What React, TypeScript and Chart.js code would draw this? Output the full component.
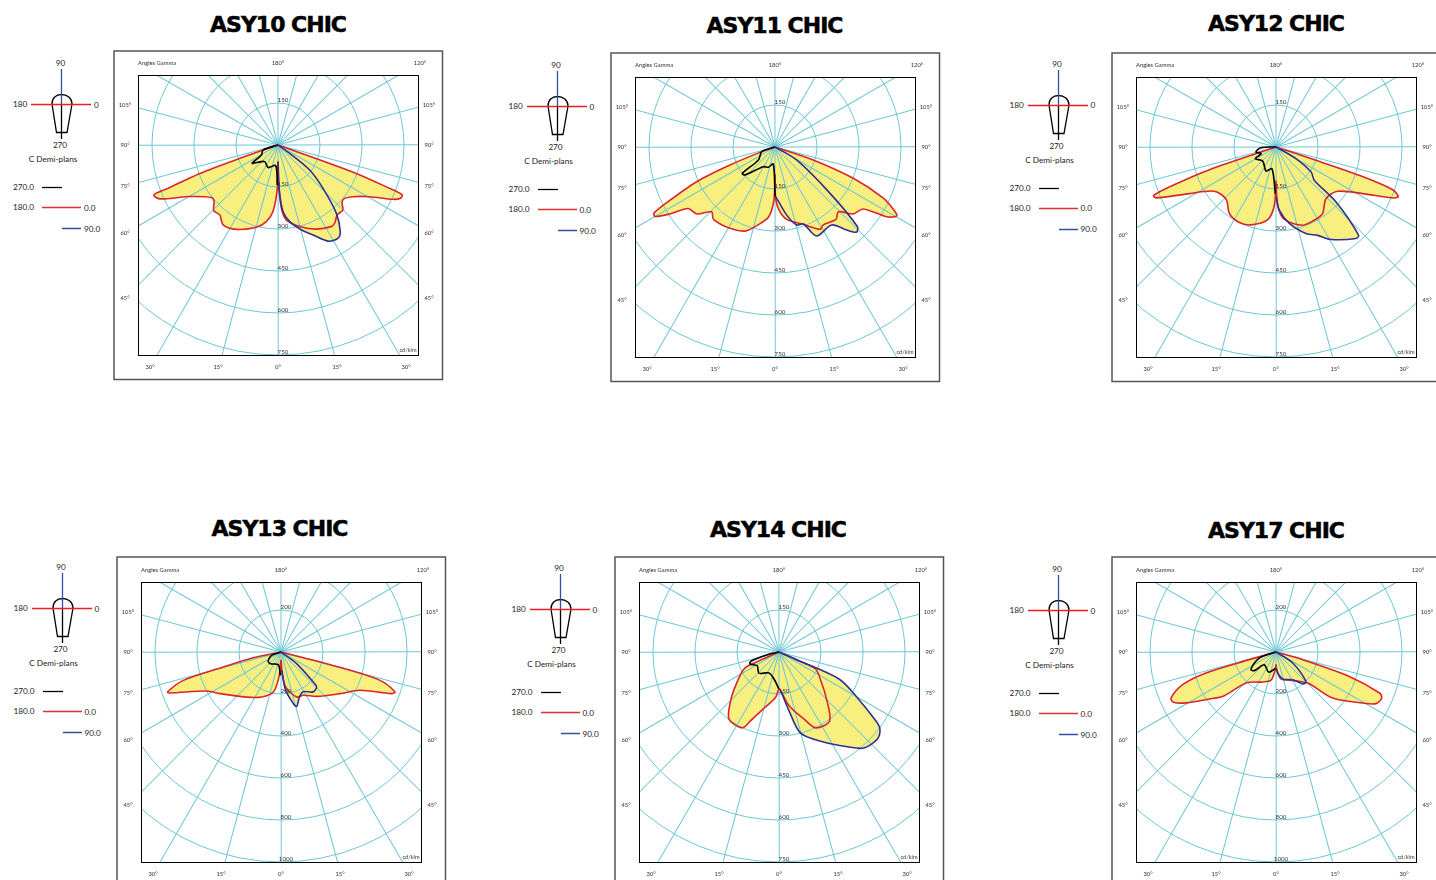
import React, { useEffect, useRef } from "react";
import { Chart, registerables } from "chart.js";

Chart.register(...registerables);

// Signed gamma angle: negative = C180 / C270 half plane, positive = C0 / C90 half plane. Intensity in cd/klm.
const asy10RedGamma = [-72, -70.7, -70, -68.5, -68.1, -65.5, -59.7, -51.7, -48.5, -44.4, -39.8, -34.5, -26.3, -14.7, -8.7, -4.3, -0.9, 0, 1.4, 3, 6.3, 14.9, 24.5, 33.1, 35.9, 40.3, 45, 48.1, 51.3, 55.4, 60.6, 64.7, 66.5, 68.1, 68.8, 70, 72];
const asy10RedCd = [0, 151, 297, 421, 478, 464, 365, 303, 305, 328, 325, 346, 336, 304, 277, 238, 155, 60, 143, 226, 269, 301, 330, 348, 345, 327, 328, 307, 305, 325, 376, 454, 477, 478, 421, 297, 0];
const asy10BlueGamma = [60, 54.5, 51.7, 46.1, 40.5, 35.7, 32.7, 27.5, 21.3, 15.3, 8.7, 4.3, 1.3, 0];
const asy10BlueCd = [0, 51, 144, 223, 321, 381, 396, 387, 345, 314, 277, 238, 155, 60];
const asy10BlackGamma = [-80, -71.6, -59, -54.8, -49, -38.7, -23.8, -6.4, -1];
const asy10BlackCd = [0, 56, 69, 113, 94, 76, 88, 74, 143];

const asy11RedGamma = [-72, -70.7, -68.2, -66.1, -62.5, -61.3, -59.9, -57.5, -54.7, -49.5, -44.4, -40.4, -29, -19.7, -14.1, -5.4, -1.1, 0, 0.7, 3.6, 9.2, 20.1, 28.7, 31.8, 40.1, 44.4, 49.5, 54.9, 58, 60.4, 61.7, 64.7, 68.2, 71.3, 72];
const asy11RedCd = [0, 50, 173, 306, 449, 493, 495, 445, 380, 368, 324, 339, 332, 319, 293, 252, 189, 100, 183, 225, 262, 294, 335, 327, 338, 324, 368, 385, 470, 500, 487, 428, 301, 144, 0];
const asy11BlueGamma = [65, 59, 49.9, 46, 43.7, 40.8, 36, 25.1, 20.2, 15.5, 9.7, 0.8];
const asy11BlueCd = [0, 90, 257, 409, 421, 392, 344, 351, 293, 289, 246, 177];
const asy11BlackGamma = [-75, -70.7, -52, -51.1, -47, -30.7, -18.2, -5.6, 0];
const asy11BlackCd = [0, 50, 75, 150, 146, 82, 76, 61, 177];

const asy12RedGamma = [-76, -71.2, -69.6, -68.4, -67, -61.7, -54.3, -43.7, -35, -25.9, -17.8, -6.5, -1.6, 0, 1.6, 6.6, 18.8, 27.6, 35, 44, 54.3, 61.7, 66.7, 68, 69.9, 71.2, 71.6, 76];
const asy12RedCd = [0, 251, 394, 470, 465, 351, 271, 258, 290, 300, 292, 261, 208, 120, 208, 260, 295, 295, 290, 257, 271, 351, 460, 471, 444, 314, 150, 0];
const asy12BlueGamma = [65, 59.7, 54.5, 49, 47.5, 43.1, 41.1, 30.7, 25.3, 19.1, 9.9, 3, 0.4];
const asy12BlueCd = [0, 82, 154, 181, 290, 432, 434, 384, 349, 327, 277, 226, 179];
const asy12BlackGamma = [-90, -87.5, -76, -66, -60.6, -43.6, -22.6, -10.5, -0.8];
const asy12BlackCd = [0, 54, 74, 58, 85, 69, 93, 79, 167];

const asy13RedGamma = [-80, -78.4, -75.4, -73.8, -70.6, -69.7, -62.3, -55.7, -37.3, -23.2, -10.8, -4.6, 0, 3, 7.6, 19.2, 27.3, 38.8, 54.8, 64.1, 69.4, 70.7, 74, 75.4, 80];
const asy13RedCd = [0, 135, 284, 484, 573, 563, 400, 352, 270, 233, 194, 119, 40, 87, 168, 227, 232, 271, 344, 417, 563, 575, 490, 290, 0];
const asy13BlueGamma = [60, 53.3, 47.1, 45.5, 38.9, 29.2, 22.2, 16.1, 13.4, 6.9, 2];
const asy13BlueCd = [0, 94, 210, 238, 244, 217, 232, 270, 252, 184, 87];
const asy13BlackGamma = [-85, -70, -54.6, -41.5, -11.9, -1.6];
const asy13BlackCd = [0, 48, 75, 75, 62, 111];

const asy14RedGamma = [-75, -66.1, -64.1, -52.2, -44.8, -36.7, -25.8, -22.4, -14.9, -4.2, 0, 2.5, 10.6, 20.5, 25.8, 36.4, 46.9, 55.5, 65.1, 66.4, 75];
const asy14RedCd = [0, 92, 139, 196, 245, 299, 301, 265, 208, 162, 132, 138, 195, 256, 301, 305, 228, 181, 144, 71, 0];
const asy14BlueGamma = [75, 66.4, 65.8, 60.3, 54.6, 52.7, 48.5, 41.5, 35.8, 25.8, 14.9, 9.7, 2.5];
const asy14BlueCd = [0, 71, 235, 315, 424, 453, 469, 458, 417, 356, 300, 213, 138];
const asy14BlackGamma = [-85, -77, -71.8, -67.5, -57.8, -43.6, -25.5, -10.5, 0];
const asy14BlackCd = [0, 43, 106, 112, 92, 104, 83, 98, 132];

const asy17RedGamma = [-80, -74, -73.3, -70.7, -66.3, -63.9, -60.5, -54.8, -49.8, -44, -24, -10, -2.2, 0, 2, 10.5, 30.5, 45.6, 50.9, 59.5, 62.7, 66.5, 68.4, 71.6, 74, 80];
const asy17RedCd = [0, 132, 348, 471, 546, 544, 492, 389, 322, 205, 156, 136, 84, 60, 84, 130, 157, 211, 348, 479, 536, 549, 530, 368, 132, 0];
const asy17BlueGamma = [65, 56.6, 45.6, 40.5, 31, 13.9, 4.5, 1];
const asy17BlueCd = [0, 95, 200, 200, 154, 132, 100, 76];
const asy17BlackGamma = [-85, -72, -66.7, -54.8, -49.3, -42.6, -20.1, -2.3];
const asy17BlackCd = [0, 67, 100, 146, 136, 83, 102, 79];

const spokeGamma = [-165, -150, -135, -120, -105, -90, -75, -60, -45, -30, -15, 0, 15, 30, 45, 60, 75, 90, 105, 120, 135, 150, 165, 180];
const radii150 = [150, 300, 450, 600, 750];
const radii200 = [200, 400, 600, 800, 1000];
const sideLabels = ["105°", "90°", "75°", "60°", "45°"];
const bottomLabels = ["30°", "15°", "0°", "15°", "30°"];

type Panel = {
  title: string; left: number; top: number; frameDy: number; titleX: number; titleY: number; legX: number; legY: number;
  radii: number[]; red: number[][]; blue: number[][]; black: number[][];
};

const panels: Panel[] = [
  { title: "ASY10 CHIC", left: 114, top: 51, frameDy: 0, titleX: 278, titleY: 24, legX: 0, legY: 0, radii: radii150, red: [asy10RedGamma, asy10RedCd], blue: [asy10BlueGamma, asy10BlueCd], black: [asy10BlackGamma, asy10BlackCd] },
  { title: "ASY11 CHIC", left: 611, top: 53, frameDy: 0, titleX: 774.5, titleY: 25, legX: 495.5, legY: 2, radii: radii150, red: [asy11RedGamma, asy11RedCd], blue: [asy11BlueGamma, asy11BlueCd], black: [asy11BlackGamma, asy11BlackCd] },
  { title: "ASY12 CHIC", left: 1112, top: 53, frameDy: -0.5, titleX: 1276, titleY: 23, legX: 996.5, legY: 0.5, radii: radii150, red: [asy12RedGamma, asy12RedCd], blue: [asy12BlueGamma, asy12BlueCd], black: [asy12BlackGamma, asy12BlackCd] },
  { title: "ASY13 CHIC", left: 117, top: 558, frameDy: -1, titleX: 279.5, titleY: 528, legX: 0.5, legY: 504, radii: radii200, red: [asy13RedGamma, asy13RedCd], blue: [asy13BlueGamma, asy13BlueCd], black: [asy13BlackGamma, asy13BlackCd] },
  { title: "ASY14 CHIC", left: 615, top: 558, frameDy: -1, titleX: 778, titleY: 529, legX: 498.5, legY: 505, radii: radii150, red: [asy14RedGamma, asy14RedCd], blue: [asy14BlueGamma, asy14BlueCd], black: [asy14BlackGamma, asy14BlackCd] },
  { title: "ASY17 CHIC", left: 1112, top: 558, frameDy: -1, titleX: 1276, titleY: 530, legX: 996.5, legY: 506, radii: radii200, red: [asy17RedGamma, asy17RedCd], blue: [asy17BlueGamma, asy17BlueCd], black: [asy17BlackGamma, asy17BlackCd] },
];

const toXY = (s: number[][]) => s[0].map((g, i) => ({
  x: s[1][i] * Math.sin((g * Math.PI) / 180),
  y: -s[1][i] * Math.cos((g * Math.PI) / 180),
}));

const GRID = "#6cc7d6";
const YELLOW = "#f8ef7e";
const RED = "#d8262c";
const BLUE = "#2f3192";
const FONT = 'Lato, sans-serif';

function makePlugin(radii: number[]) {
  const drawText = (ctx: any, t: string, x: number, y: number, align: any = "center", size = 5.8) => {
    ctx.font = `${size}px ${FONT}`;
    ctx.fillStyle = "#333";
    ctx.textAlign = align;
    ctx.textBaseline = "middle";
    ctx.fillText(t, x, y);
  };
  return {
    id: "photometric",
    afterDatasetDraw(chart: any, args: any) {
      if (args.index !== 3) return;
      const { ctx, chartArea: a, scales } = chart;
      const cx = scales.x.getPixelForValue(0);
      const cy = scales.y.getPixelForValue(0);
      ctx.save();
      ctx.beginPath();
      ctx.rect(a.left, a.top, a.right - a.left, a.bottom - a.top);
      ctx.clip();
      ctx.strokeStyle = GRID;
      ctx.fillStyle = GRID;
      ctx.lineWidth = 1;
      const far = radii[radii.length - 1] * 1.5;
      // Each spoke is a thin filled band, slightly off the exact diagonal so the rasteriser treats all spokes alike.
      spokeGamma.forEach((g) => {
        const rad = ((g + 0.07) * Math.PI) / 180;
        const ex = scales.x.getPixelForValue(Math.sin(rad) * far);
        const ey = scales.y.getPixelForValue(-Math.cos(rad) * far);
        const len = Math.hypot(ex - cx, ey - cy);
        const nx = (-(ey - cy) / len) * 0.5;
        const ny = ((ex - cx) / len) * 0.5;
        ctx.beginPath();
        ctx.moveTo(cx + nx, cy + ny);
        ctx.lineTo(ex + nx, ey + ny);
        ctx.lineTo(ex - nx, ey - ny);
        ctx.lineTo(cx - nx, cy - ny);
        ctx.closePath();
        ctx.fill();
      });
      radii.forEach((r) => {
        ctx.beginPath();
        ctx.arc(cx, cy, scales.x.getPixelForValue(r) - cx, 0, Math.PI * 2);
        ctx.stroke();
      });
      ctx.restore();
    },
    afterDatasetsDraw(chart: any) {
      const { ctx, chartArea: a, scales } = chart;
      const cx = scales.x.getPixelForValue(0);
      const cy = scales.y.getPixelForValue(0);
      ctx.save();
      ctx.strokeStyle = "#000";
      ctx.lineWidth = 1;
      ctx.strokeRect(Math.floor(a.left) + 0.5, Math.floor(a.top) + 0.5, a.right - a.left, a.bottom - a.top);
      drawText(ctx, "Angles Gamma", a.left, a.top - 12, "left");
      drawText(ctx, "180°", cx, a.top - 12);
      drawText(ctx, "120°", cx + 142, a.top - 12);
      const sideDy = [-40, 0, 41, 88, 153];
      sideLabels.forEach((t, i) => {
        drawText(ctx, t, cx - 153, cy + sideDy[i]);
        drawText(ctx, t, cx + 151, cy + sideDy[i]);
      });
      const bottomDx = [-128, -60, 0, 59, 128];
      bottomLabels.forEach((t, i) => drawText(ctx, t, cx + bottomDx[i], a.bottom + 12));
      drawText(ctx, "cd/klm", a.right - 1.5, a.bottom - 5, "right", 5.6);
      radii.forEach((r, i) => {
        const py = scales.y.getPixelForValue(-r);
        drawText(ctx, String(r), cx + 5, py - 3, "center", 6.2);
        if (i === 0) drawText(ctx, String(r), cx + 5, scales.y.getPixelForValue(r) - 3, "center", 6.2);
      });
      ctx.restore();
    },
  };
}

function PolarChart({ p }: { p: Panel }) {
  const ref = useRef<HTMLCanvasElement>(null);
  useEffect(() => {
    if (!ref.current) return;
    const red = toXY(p.red);
    const blue = toXY(p.blue);
    const black = toXY(p.black);
    const k = p.radii[0] / 150;
    const line = (label: string, data: any[], color: string, width: number) => ({
      label, data, showLine: true, borderColor: color, borderWidth: width, pointRadius: 0, tension: 0.3, fill: false,
    });
    const area = (label: string, data: any[]) => ({
      label, data, showLine: true, borderWidth: 0, borderColor: "rgba(0,0,0,0)", backgroundColor: YELLOW, pointRadius: 0, tension: 0.3, fill: "shape",
    });
    const chart = new Chart(ref.current, {
      type: "scatter",
      data: {
        datasets: [
          line("270.0", black, "#000", 1.6),
          line("90.0", blue, BLUE, 1.6),
          line("180.0 / 0.0", red, RED, 1.6),
          area("90.0 area", blue),
          area("180.0 / 0.0 area", red),
        ] as any,
      },
      options: {
        animation: false,
        responsive: false,
        layout: { padding: { left: 24, top: 24, right: 26, bottom: 26 } },
        scales: {
          x: { display: false, type: "linear", min: -500 * k, max: 500 * k },
          y: { display: false, type: "linear", min: -750 * k, max: 250 * k },
        },
        plugins: { legend: { display: false }, tooltip: { enabled: false } },
      },
      plugins: [makePlugin(p.radii)],
    } as any);
    return () => chart.destroy();
  }, [p]);
  return (
    <div style={{ position: "absolute", left: p.left, top: p.top, width: 330, height: 330 }}>
      <canvas ref={ref} width={330} height={330} style={{ position: "absolute", left: 0, top: 0 }} />
      <svg width={332} height={332} style={{ position: "absolute", left: -1, top: p.frameDy - 1 }}>
        <rect x={1} y={1} width={328.5} height={328.5} fill="none" stroke="#555" strokeWidth={1.5} />
      </svg>
    </div>
  );
}

function Label({ x, y, t, anchor = "left" }: { x: number; y: number; t: string; anchor?: string }) {
  return (
    <div style={{
      position: "absolute", left: x, top: y, whiteSpace: "nowrap", font: `8.2px ${FONT}`, color: "#222", lineHeight: "10px",
      transform: `translate(${anchor === "center" ? "-50%" : "0"}, -50%)`,
    }}>{t}</div>
  );
}

function LampLegend({ p }: { p: Panel }) {
  return (
    <div style={{ position: "absolute", left: p.legX, top: p.legY, width: 110, height: 240 }}>
      <svg width={110} height={240} style={{ position: "absolute", left: 0, top: 0 }}>
        <path d="M52 104 C52 98 56 94.5 61.5 94.5 C67 94.5 72 98 72 104 L67 132.5 L56.5 132.5 Z" fill="none" stroke="#000" strokeWidth={1.3} />
        <line x1={61.5} y1={105} x2={61.5} y2={139} stroke="#000" strokeWidth={1.3} />
        <line x1={61.5} y1={69} x2={61.5} y2={105} stroke="#2f4fa2" strokeWidth={1.3} />
        <line x1={31} y1={104.5} x2={91} y2={104.5} stroke="#ee1c25" strokeWidth={1.3} />
        <line x1={42} y1={187.5} x2={62} y2={187.5} stroke="#000" strokeWidth={1.3} />
        <line x1={42} y1={207.5} x2={81} y2={207.5} stroke="#e03030" strokeWidth={1.5} />
        <line x1={62} y1={228.5} x2={81} y2={228.5} stroke="#2f4fa2" strokeWidth={1.5} />
      </svg>
      <Label x={60.5} y={63} t="90" anchor="center" />
      <Label x={13} y={104} t="180" />
      <Label x={94} y={104.5} t="0" />
      <Label x={60} y={145} t="270" anchor="center" />
      <Label x={53} y={159} t="C Demi-plans" anchor="center" />
      <Label x={13} y={187} t="270.0" />
      <Label x={13} y={207} t="180.0" />
      <Label x={84} y={207.5} t="0.0" />
      <Label x={84} y={228.5} t="90.0" />
    </div>
  );
}

export default function App() {
  return (
    <div style={{ position: "fixed", left: 0, top: 0, width: 1436, height: 880, overflow: "hidden", background: "#fff" }}>
      {panels.map((p) => (
        <React.Fragment key={p.title}>
          <div style={{
            position: "absolute", left: p.titleX, top: p.titleY, transform: "translate(-50%, -50%)", whiteSpace: "nowrap",
            font: 'bold 22px "DejaVu Sans", sans-serif', letterSpacing: "-1px", color: "#000", WebkitTextStroke: "0.5px #000",
          }}>{p.title}</div>
          <LampLegend p={p} />
          <PolarChart p={p} />
        </React.Fragment>
      ))}
    </div>
  );
}
